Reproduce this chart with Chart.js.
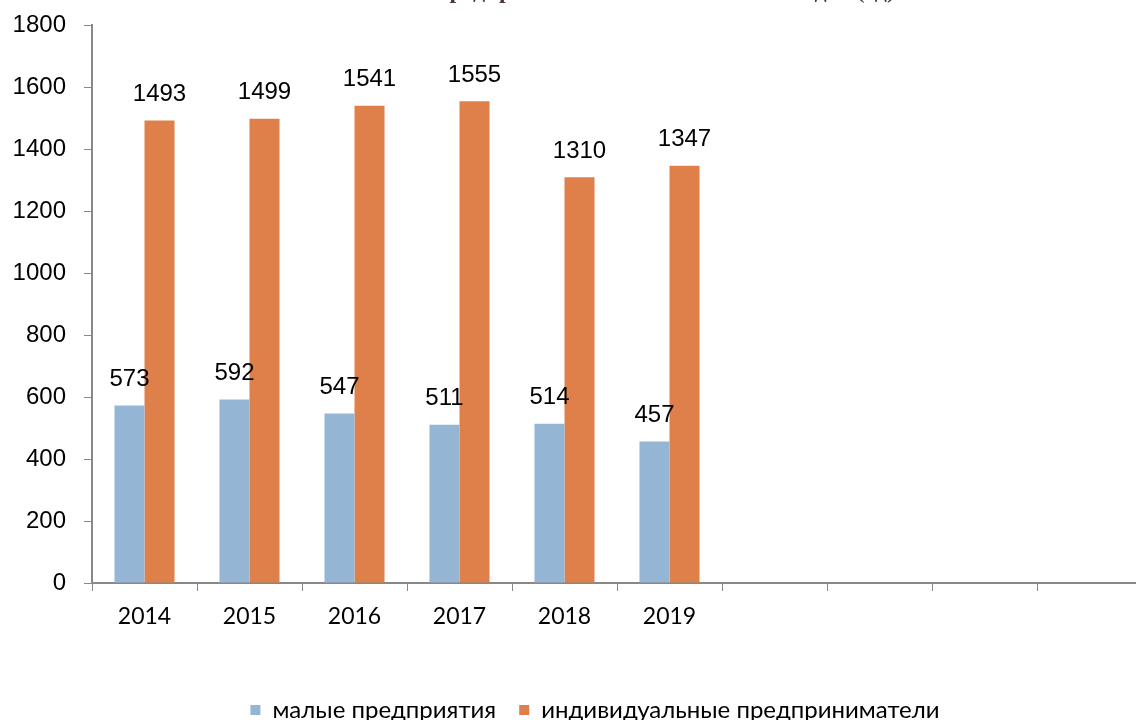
<!DOCTYPE html>
<html>
<head>
<meta charset="utf-8">
<script src="https://cdn.jsdelivr.net/npm/chart.js@4/dist/chart.umd.min.js"></script>
<style>
    body { margin: 0; overflow: hidden; background: #fff; }
    #wrap { position: relative; width: 1142px; height: 720px; overflow: hidden; }
    #myChart { position: absolute; top: -7px; left: 0; }
    #title {
        position: absolute; top: -22px; left: 0; width: 895px;
        text-align: right; white-space: nowrap;
        font: bold 24px "Liberation Serif", serif; line-height: 24px;
        color: #4b3832; z-index: 1;
    }
</style>
</head>
<body>
<div id="wrap">
    <div id="title">Количество малых предприятий и ИП в 2014 – 2019 годах (ед)</div>
    <canvas id="myChart" width="1142" height="739"></canvas>
</div>
<script>
let years = ['2014', '2015', '2016', '2017', '2018', '2019', '', '', '', ''];
let smallBiz = [573, 592, 547, 511, 514, 457];
let entrepreneurs = [1493, 1499, 1541, 1555, 1310, 1347];
let seriesNames = ['малые предприятия', 'индивидуальные предприниматели'];

// подписи значений над столбиками
let valueLabels = {
    id: 'valueLabels',
    afterDatasetsDraw(chart) {
        let ctx = chart.ctx;
        ctx.save();
        ctx.font = '24px "Liberation Sans", Arial, sans-serif';
        ctx.fillStyle = '#000';
        ctx.textAlign = 'center';
        ctx.textBaseline = 'middle';
        chart.data.datasets.forEach((ds, i) => {
            chart.getDatasetMeta(i).data.forEach((bar, j) => {
                if (ds.data[j] == null) return;
                ctx.fillText(ds.data[j], bar.x, bar.y - 26);
            });
        });
        ctx.restore();
    }
};

// легенда в оригинале чуть правее центра
let legendShift = {
    id: 'legendShift',
    afterLayout(chart) {
        chart.legend.left += 24;
        chart.legend.right += 24;
    }
};

let myChart = document.getElementById('myChart').getContext('2d');
let barChart = new Chart(myChart, {
    type: 'bar',
    data: {
        labels: years,
        datasets: [{
            label: seriesNames[0],
            data: smallBiz,
            backgroundColor: '#95b5d4',
            categoryPercentage: 0.572,
            barPercentage: 1
        }, {
            label: seriesNames[1],
            data: entrepreneurs,
            backgroundColor: '#df804a',
            categoryPercentage: 0.572,
            barPercentage: 1
        }]
    },
    options: {
        responsive: false,
        animation: false,
        layout: { padding: { top: 11, right: 0, left: 0, bottom: 0 } },
        plugins: {
            title: { display: false },
            tooltip: { enabled: false },
            legend: {
                position: 'bottom',
                labels: {
                    boxWidth: 10,
                    boxHeight: 10,
                    padding: 23,
                    color: '#000',
                    font: { family: 'Lato, "Open Sans", sans-serif', size: 24 }
                }
            }
        },
        scales: {
            x: {
                grid: { drawOnChartArea: false, tickLength: 8, color: '#888' },
                border: { color: '#888', width: 2 },
                ticks: {
                    color: '#000',
                    padding: 12,
                    maxRotation: 0,
                    font: { family: 'Lato, "Open Sans", sans-serif', size: 23 }
                },
                afterFit(scale) { scale.height = 92; }
            },
            y: {
                min: 0,
                max: 1800,
                grid: { drawOnChartArea: false, tickLength: 8, color: '#888' },
                border: { color: '#888', width: 2 },
                ticks: {
                    stepSize: 200,
                    color: '#000',
                    padding: 18,
                    callback: (v) => String(v),
                    font: { family: '"Liberation Sans", Arial, sans-serif', size: 24 }
                },
                afterFit(scale) { scale.width = 92; }
            }
        }
    },
    plugins: [valueLabels, legendShift]
});
</script>
</body>
</html>
